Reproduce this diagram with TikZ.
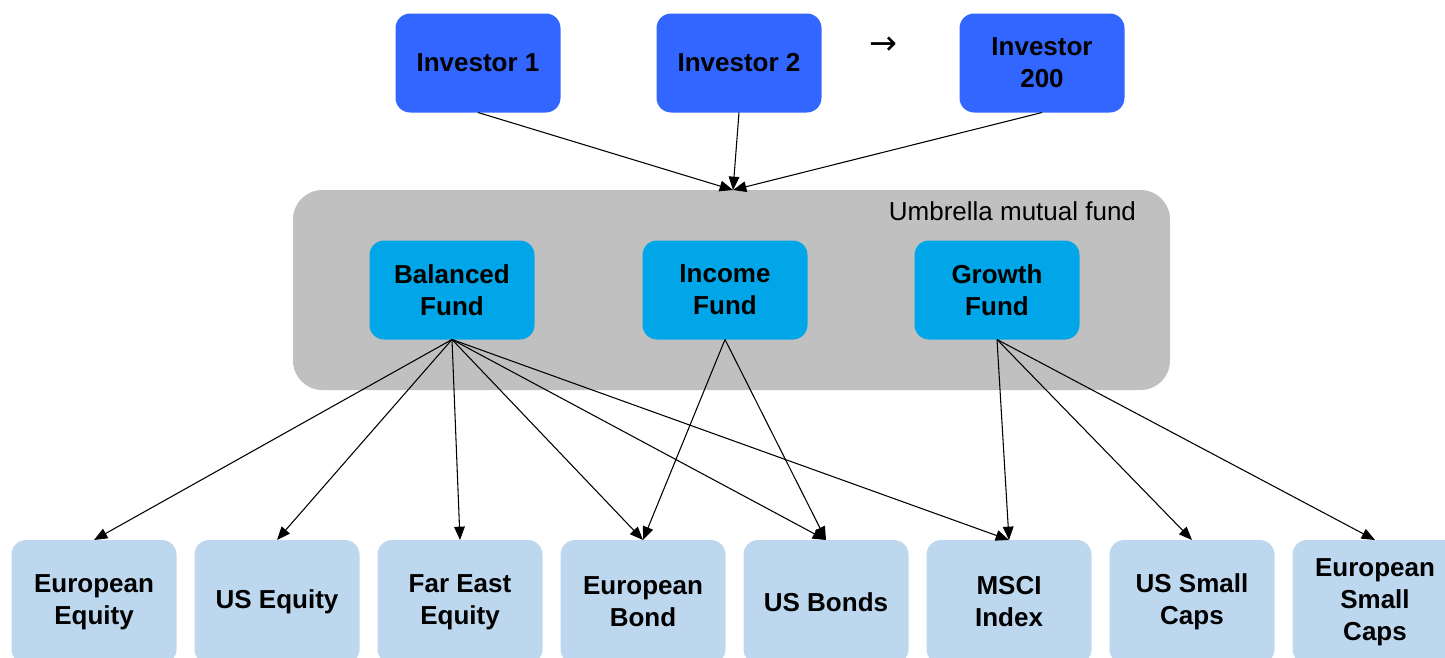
\documentclass[tikz,border=0pt]{standalone}
\usepackage{fontspec}
\setmainfont{Liberation Sans}
\newfontfamily\arrowfont{DejaVu Sans}
\usetikzlibrary{arrows.meta,positioning}

\definecolor{investorblue}{RGB}{51,102,255}
\definecolor{fundblue}{RGB}{0,166,232}
\definecolor{assetblue}{RGB}{189,215,238}
\definecolor{umbrellagray}{RGB}{192,192,192}

\begin{document}
\begin{tikzpicture}[x=0.75pt,y=-0.75pt,->,>={Triangle[length=10pt,width=8pt]},line width=0.8pt,
    investor/.style={rectangle,rounded corners=11pt,fill=investorblue,outer sep=0pt,minimum width=123.75pt,minimum height=74.25pt,align=center,font=\fontsize{19.5}{24}\selectfont\bfseries},
    fund/.style={investor,fill=fundblue},
    asset/.style={investor,fill=assetblue,minimum height=93pt},
    umbrella/.style={rectangle,rounded corners=22pt,fill=umbrellagray,outer sep=0pt,minimum width=657.75pt,minimum height=150pt}]
    \useasboundingbox (0,0) rectangle (1445,657);

    %investors
    \node[investor] (inv1) at (478,63) {Investor 1};
    \node[investor] (inv2) [right=72pt of inv1] {Investor 2};
    \node[investor] (inv200) [right=103.5pt of inv2] {Investor\\200};
    \node[font=\arrowfont\fontsize{25}{28}\selectfont] (more) at (883,46) {→};

    %umbrella fund
    \node[umbrella] (umbrella) at (731.5,290) {};
    \node[anchor=base east,outer sep=0pt,inner sep=0pt,font=\fontsize{19.5}{24}\selectfont] (umbrellalabel) at (1136,220) {Umbrella mutual fund};
    \coordinate (umbrellatop) at (733,190);

    \node[fund] (balanced) at (452,290) {Balanced\\Fund};
    \node[fund] (income) [right=81pt of balanced] {Income\\Fund};
    \node[fund] (growth) [right=80.25pt of income] {Growth\\Fund};

    %sub funds
    \node[asset] (eueq) at (94,602) {European\\Equity};
    \node[asset] (useq) [right=13.5pt of eueq] {US Equity};
    \node[asset] (fareq) [right=13.5pt of useq] {Far East\\Equity};
    \node[asset] (eubond) [right=13.5pt of fareq] {European\\Bond};
    \node[asset] (usbond) [right=13.5pt of eubond] {US Bonds};
    \node[asset] (msci) [right=13.5pt of usbond] {MSCI\\Index};
    \node[asset] (ussmall) [right=13.5pt of msci] {US Small\\Caps};
    \node[asset] (eusmall) [right=13.5pt of ussmall] {European\\Small\\Caps};

    \path[->]
    (inv1.south) edge (umbrellatop)
    (inv2.south) edge (umbrellatop)
    (inv200.south) edge (umbrellatop)
    (balanced.south) edge (eueq.north)
    (balanced.south) edge (useq.north)
    (balanced.south) edge (fareq.north)
    (balanced.south) edge (eubond.north)
    (balanced.south) edge (usbond.north)
    (balanced.south) edge (msci.north)
    (income.south) edge (eubond.north)
    (income.south) edge (usbond.north)
    (growth.south) edge (msci.north)
    (growth.south) edge (ussmall.north)
    (growth.south) edge (eusmall.north);
\end{tikzpicture}
\end{document}
